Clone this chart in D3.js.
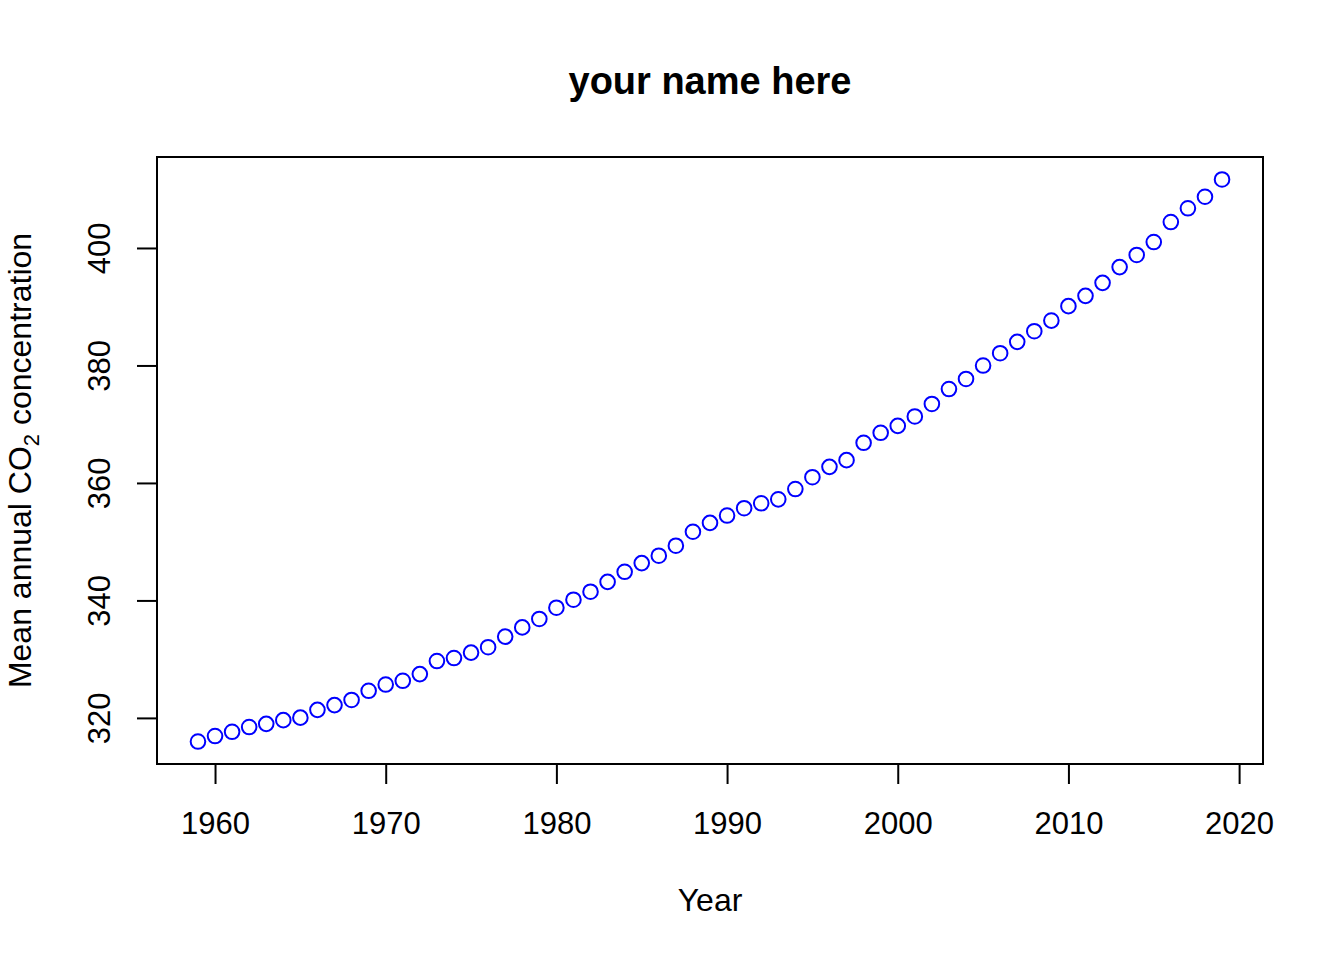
<html>
<head>
<style>
body { margin: 0; background: #fff; }
text { font-family: "Liberation Sans", Arial, sans-serif; fill: #000; }
.axis path, .axis line { stroke: #000; stroke-width: 2; fill: none; }
</style>
</head>
<body>
<div id="chart"></div>
<script src="https://d3js.org/d3.v7.min.js"></script>
<script>
var years = d3.range(1959, 2020);
var co2 = [315.98, 316.91, 317.64, 318.45, 318.99, 319.62, 320.04, 321.37, 322.18, 323.05,
           324.62, 325.68, 326.32, 327.46, 329.68, 330.19, 331.12, 332.03, 333.84, 335.41,
           336.84, 338.76, 340.12, 341.48, 343.15, 344.87, 346.35, 347.61, 349.31, 351.69,
           353.20, 354.45, 355.70, 356.54, 357.21, 358.96, 360.97, 362.74, 363.88, 366.84,
           368.54, 369.71, 371.32, 373.45, 375.98, 377.70, 379.98, 382.09, 384.02, 385.83,
           387.64, 390.10, 391.85, 394.06, 396.74, 398.81, 401.01, 404.41, 406.76, 408.72,
           411.66];
var xTicks = [1960, 1970, 1980, 1990, 2000, 2010, 2020];
var yTicks = [320, 340, 360, 380, 400];

var W = 1344, H = 960;
var box = {left: 157, right: 1263, top: 157, bottom: 764};

var svg = d3.select("#chart").append("svg")
    .attr("width", W)
    .attr("height", H);

// R style 4% range padding
var xr = d3.extent(years), yr = d3.extent(co2);
var xp = (xr[1] - xr[0]) * 0.04, yp = (yr[1] - yr[0]) * 0.04;

var x = d3.scaleLinear().domain([xr[0] - xp, xr[1] + xp]).range([box.left, box.right]);
var y = d3.scaleLinear().domain([yr[0] - yp, yr[1] + yp]).range([box.bottom, box.top]);

// x axis
var xAxis = svg.append("g")
    .attr("class", "axis")
    .attr("transform", "translate(0," + box.bottom + ")")
    .call(d3.axisBottom(x).tickValues(xTicks).tickFormat(d3.format("d")).tickSize(20).tickSizeOuter(0));
xAxis.select(".domain").remove();
xAxis.append("line")
    .attr("x1", x(xTicks[0])).attr("x2", x(xTicks[xTicks.length - 1]))
    .attr("stroke", "#000").attr("stroke-width", 2);
xAxis.selectAll(".tick text")
    .attr("y", 0).attr("dy", null)
    .attr("transform", "translate(0,70)")
    .style("font-size", "31px");

// y axis
var yAxis = svg.append("g")
    .attr("class", "axis")
    .attr("transform", "translate(" + box.left + ",0)")
    .call(d3.axisLeft(y).tickValues(yTicks).tickSize(20).tickSizeOuter(0));
yAxis.select(".domain").remove();
yAxis.append("line")
    .attr("y1", y(yTicks[0])).attr("y2", y(yTicks[yTicks.length - 1]))
    .attr("stroke", "#000").attr("stroke-width", 2);
yAxis.selectAll(".tick text")
    .attr("x", 0).attr("dy", null)
    .attr("transform", "translate(-47,0) rotate(-90)")
    .style("text-anchor", "middle")
    .style("font-size", "31px");

// plot box
svg.append("rect")
    .attr("x", box.left).attr("y", box.top)
    .attr("width", box.right - box.left).attr("height", box.bottom - box.top)
    .attr("fill", "none").attr("stroke", "#000").attr("stroke-width", 2);

// points
svg.selectAll("circle.pt")
    .data(years)
    .enter()
    .append("circle")
      .attr("class", "pt")
      .attr("cx", function(d) { return x(d); })
      .attr("cy", function(d, i) { return y(co2[i]); })
      .attr("r", 7.3)
      .attr("fill", "none")
      .attr("stroke", "#0000ff")
      .attr("stroke-width", 2);

// title and labels
svg.append("text")
    .attr("x", (box.left + box.right) / 2)
    .attr("y", 94)
    .attr("text-anchor", "middle")
    .style("font-size", "38px")
    .style("font-weight", "bold")
    .text("your name here");

svg.append("text")
    .attr("x", (box.left + box.right) / 2)
    .attr("y", 911)
    .attr("text-anchor", "middle")
    .style("font-size", "32px")
    .text("Year");

var ylab = svg.append("text")
    .attr("transform", "translate(31," + ((box.top + box.bottom) / 2) + ") rotate(-90)")
    .attr("text-anchor", "middle")
    .style("font-size", "32px");
ylab.append("tspan").text("Mean annual CO");
ylab.append("tspan").attr("dy", 8).style("font-size", "22px").text("2");
ylab.append("tspan").attr("dy", -8).text(" concentration");
</script>
</body>
</html>
